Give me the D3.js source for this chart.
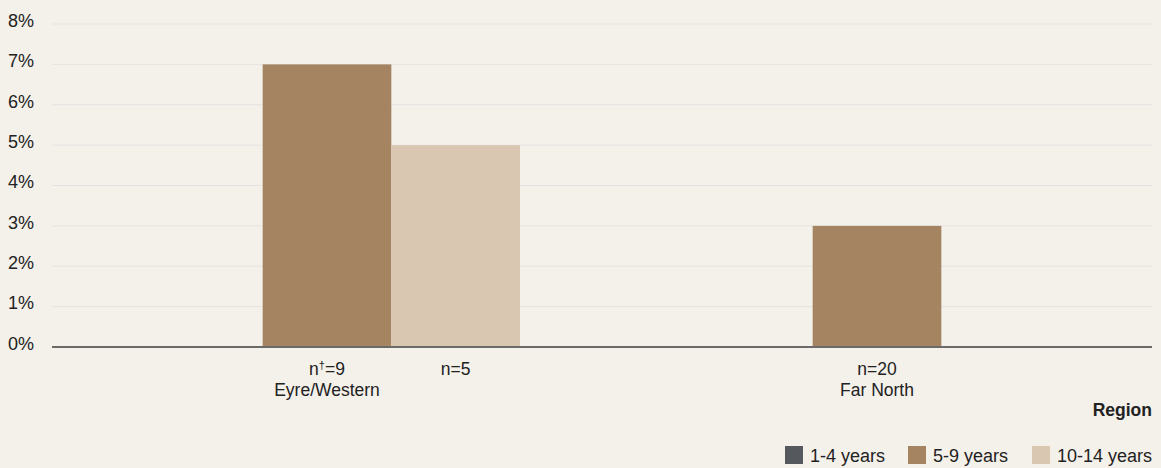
<!DOCTYPE html>
<html>
<head>
<meta charset="utf-8">
<script src="https://cdn.jsdelivr.net/npm/d3@7"></script>
<style>
  html, body { margin: 0; padding: 0; background: #f4f0ea; }
  svg { display: block; }
  text { font-family: "Liberation Sans", Arial, sans-serif; fill: #222; }
</style>
</head>
<body>
<div id="chart"></div>
<script>
// Regions and age groups
const regions = ["Eyre/Western", "Far North"];
const ageGroups = ["1-4 years", "5-9 years", "10-14 years"];
const colors = ["#55585c", "#a58461", "#d9c7b2"];

// Percentage per age group, for each region
const values = [
  [0, 7, 5],
  [0, 3, 0]
];
// Sample size labels per bar: [prefix, superscript mark, rest] (blank where not shown)
const sampleLabels = [
  [null, ["n", "\u2020", "=9"], ["n", "", "=5"]],
  [null, ["n", "", "=20"], null]
];
const yTicks = [0, 1, 2, 3, 4, 5, 6, 7, 8];

const W = 1161, H = 468;
const margin = { left: 52, right: 9, top: 24, bottom: 121 };

const svg = d3.select("#chart").append("svg")
  .attr("width", W).attr("height", H);

svg.append("rect").attr("width", W).attr("height", H).attr("fill", "#f4f0ea");

const x0 = d3.scaleBand()
  .domain(regions)
  .range([margin.left, W - margin.right])
  .paddingInner(0)
  .paddingOuter(0);

const groupPad = 82;
const x1 = d3.scaleBand()
  .domain(ageGroups)
  .range([groupPad, x0.bandwidth() - groupPad]);

const y = d3.scaleLinear()
  .domain([0, 8])
  .range([H - margin.bottom, margin.top]);

// Gridlines
svg.append("g")
  .selectAll("line")
  .data(yTicks.filter(d => d > 0))
  .join("line")
  .attr("x1", margin.left).attr("x2", W - margin.right)
  .attr("y1", d => y(d)).attr("y2", d => y(d))
  .attr("stroke", "#e4e3e3").attr("stroke-width", 1);

// Y axis labels
const yAxis = d3.axisLeft(y).tickValues(yTicks).tickFormat(d => d + "%").tickSize(0).tickPadding(0);
const gy = svg.append("g").attr("transform", `translate(34,-4)`).call(yAxis);
gy.select(".domain").remove();
gy.selectAll("text")
  .attr("font-size", 18)
  .attr("fill", "#222")
  .attr("dy", "0.35em")
  .style("font-family", "'Liberation Sans', Arial, sans-serif");

// Bars
const groups = svg.append("g")
  .selectAll("g")
  .data(regions)
  .join("g")
  .attr("transform", d => `translate(${x0(d)},0)`);

groups.selectAll("rect")
  .data((r, i) => ageGroups.map((a, j) => ({ a, v: values[i][j], c: colors[j] })))
  .join("rect")
  .attr("x", d => x1(d.a))
  .attr("width", x1.bandwidth())
  .attr("y", d => y(d.v))
  .attr("height", d => y(0) - y(d.v))
  .attr("fill", d => d.c);

// Baseline
svg.append("line")
  .attr("x1", margin.left).attr("x2", W - margin.right)
  .attr("y1", y(0)).attr("y2", y(0))
  .attr("stroke", "#6b6a69").attr("stroke-width", 2);

// Sample size labels under bars
const nLabels = groups.selectAll("text.n")
  .data((r, i) => ageGroups.map((a, j) => ({ a, t: sampleLabels[i][j] })).filter(d => d.t))
  .join("text")
  .attr("class", "n")
  .attr("x", d => x1(d.a) + x1.bandwidth() / 2)
  .attr("y", y(0) + 28)
  .attr("text-anchor", "middle")
  .attr("font-size", 17.5);
nLabels.append("tspan").text(d => d.t[0]);
nLabels.append("tspan")
  .attr("font-size", 11)
  .attr("dy", -6)
  .text(d => d.t[1]);
nLabels.append("tspan")
  .attr("dy", d => d.t[1] ? 6 : 0)
  .text(d => d.t[2]);

// Region labels
groups.append("text")
  .attr("x", x0.bandwidth() / 2)
  .attr("y", y(0) + 49)
  .attr("text-anchor", "middle")
  .attr("font-size", 17.5)
  .text(d => d);

// Axis title
svg.append("text")
  .attr("x", W - margin.right)
  .attr("y", 416)
  .attr("text-anchor", "end")
  .attr("font-size", 17.5)
  .attr("font-weight", "bold")
  .text("Region");

// Legend
const legendItems = [
  { label: ageGroups[0], color: colors[0], x: 785 },
  { label: ageGroups[1], color: colors[1], x: 908 },
  { label: ageGroups[2], color: colors[2], x: 1032 }
];
const lg = svg.append("g");
lg.selectAll("rect")
  .data(legendItems)
  .join("rect")
  .attr("x", d => d.x).attr("y", 446)
  .attr("width", 18).attr("height", 18)
  .attr("fill", d => d.color);
lg.selectAll("text")
  .data(legendItems)
  .join("text")
  .attr("x", d => d.x + 25).attr("y", 462)
  .attr("font-size", 18)
  .text(d => d.label);
</script>
</body>
</html>
